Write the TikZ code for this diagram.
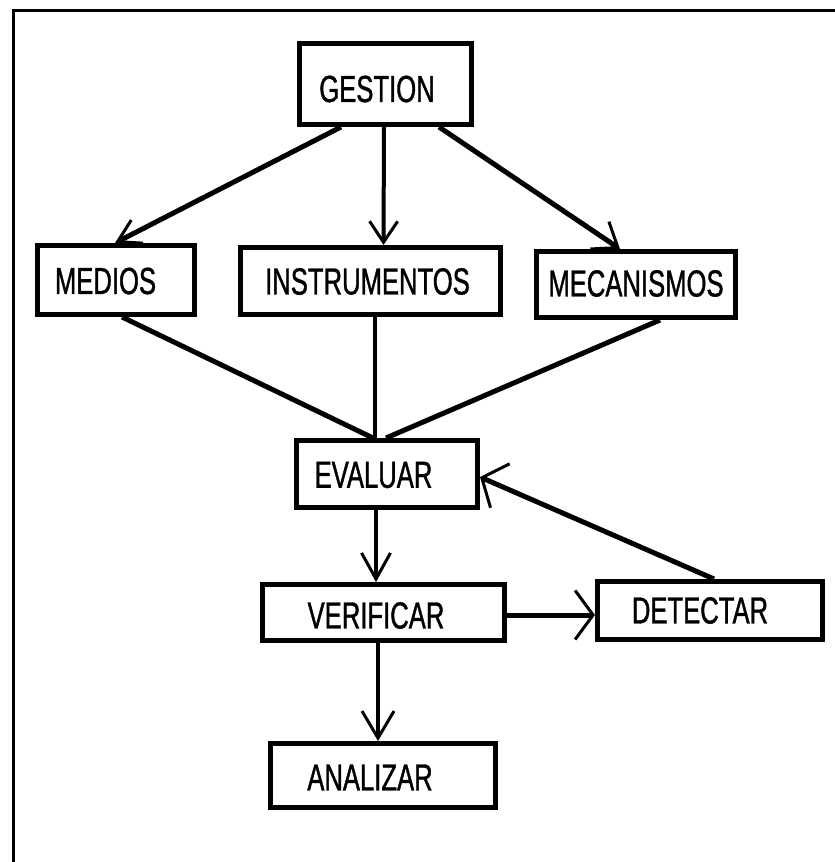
\documentclass[tikz,border=0pt]{standalone}
\usepackage{fontspec}
\usetikzlibrary{arrows.meta}
\newfontfamily\lab[FakeStretch=0.68,FakeBold=1]{Liberation Sans}

\tikzset{
  frame/.style={line width=3pt, line cap=rect},
  box/.style={draw, line width=5pt, inner sep=0pt},
  lbl/.style={font=\lab\fontsize{37.7}{40}\selectfont, inner sep=0pt, text=black},
  link/.style={line width=#1},
  tipv/.style 2 args={-{Straight Barb[length=#1,width=#2,line width=3pt]}},
}

\begin{document}
\begin{tikzpicture}[x=1pt,y=-1pt]
  \useasboundingbox (0,0) rectangle (835,862);
  \fill[white] (0,0) rectangle (835,862);

  % open frame: top and left edges only
  \draw[frame] (13,875) -- (13,10) -- (845,10);

  % boxes
  \node[box, minimum width=172pt, minimum height=81pt] (gestion) at (385.5,84) {};
  \node[box, minimum width=157pt, minimum height=69pt] (medios)  at (116,280) {};
  \node[box, minimum width=260pt, minimum height=67pt] (instr)   at (370.5,281) {};
  \node[box, minimum width=199pt, minimum height=66pt] (mec)     at (636,284.5) {};
  \node[box, minimum width=181pt, minimum height=67pt] (eval)    at (387,474) {};
  \node[box, minimum width=242pt, minimum height=56pt] (verif)   at (383.5,612.5) {};
  \node[box, minimum width=225pt, minimum height=58pt] (detect)  at (710,610.5) {};
  \node[box, minimum width=225pt, minimum height=64pt] (anal)    at (383,775.5) {};

  % labels
  \node[lbl] (gestion-t) at (377,89)     {GESTION};
  \node[lbl] (medios-t)  at (105.5,281)  {MEDIOS};
  \node[lbl] (instr-t)   at (367.5,281.5){INSTRUMENTOS};
  \node[lbl] (mec-t)     at (636,283.5)  {MECANISMOS};
  \node[lbl] (eval-t)    at (373.5,475)  {EVALUAR};
  \node[lbl] (verif-t)   at (376,615.5)  {VERIFICAR};
  \node[lbl] (detect-t)  at (700,610.5)  {DETECTAR};
  \node[lbl] (anal-t)    at (370,777.5)  {ANALIZAR};

  % connectors
  \draw[link=5pt, tipv={22pt}{26pt}] ([xshift=-44.5pt]gestion.south) -- ([xshift=-1pt]medios.north);
  \draw[link=4pt, tipv={21pt}{28pt}] ([xshift=-1.5pt]gestion.south) -- ([xshift=13pt]instr.north);
  \draw[link=5pt, tipv={22pt}{33pt}] ([xshift=53.5pt]gestion.south) -- ([xshift=-16pt]mec.north);

  \draw[link=5pt] ([xshift=6pt]medios.south) -- ([xshift=-14pt]eval.north);
  \draw[link=4pt] ([xshift=4.5pt]instr.south) -- ([xshift=-12pt]eval.north);
  \draw[link=5pt] ([xshift=24pt]mec.south) -- ([xshift=-1pt]eval.north);

  \draw[link=4pt, tipv={26pt}{29pt}] ([xshift=-11pt]eval.south) -- ([xshift=-7.5pt]verif.north);
  \draw[link=5pt, tipv={20pt}{48pt}] ([xshift=4pt]detect.north) -- ([yshift=-3pt]eval.east);
  \draw[link=5pt, tipv={18pt}{49pt}] ([yshift=-2.5pt]verif.east) -- ([yshift=-4.5pt]detect.west);
  \draw[link=4pt, tipv={27pt}{32pt}] ([xshift=-5.5pt]verif.south) -- ([xshift=-5pt]anal.north);
\end{tikzpicture}
\end{document}
